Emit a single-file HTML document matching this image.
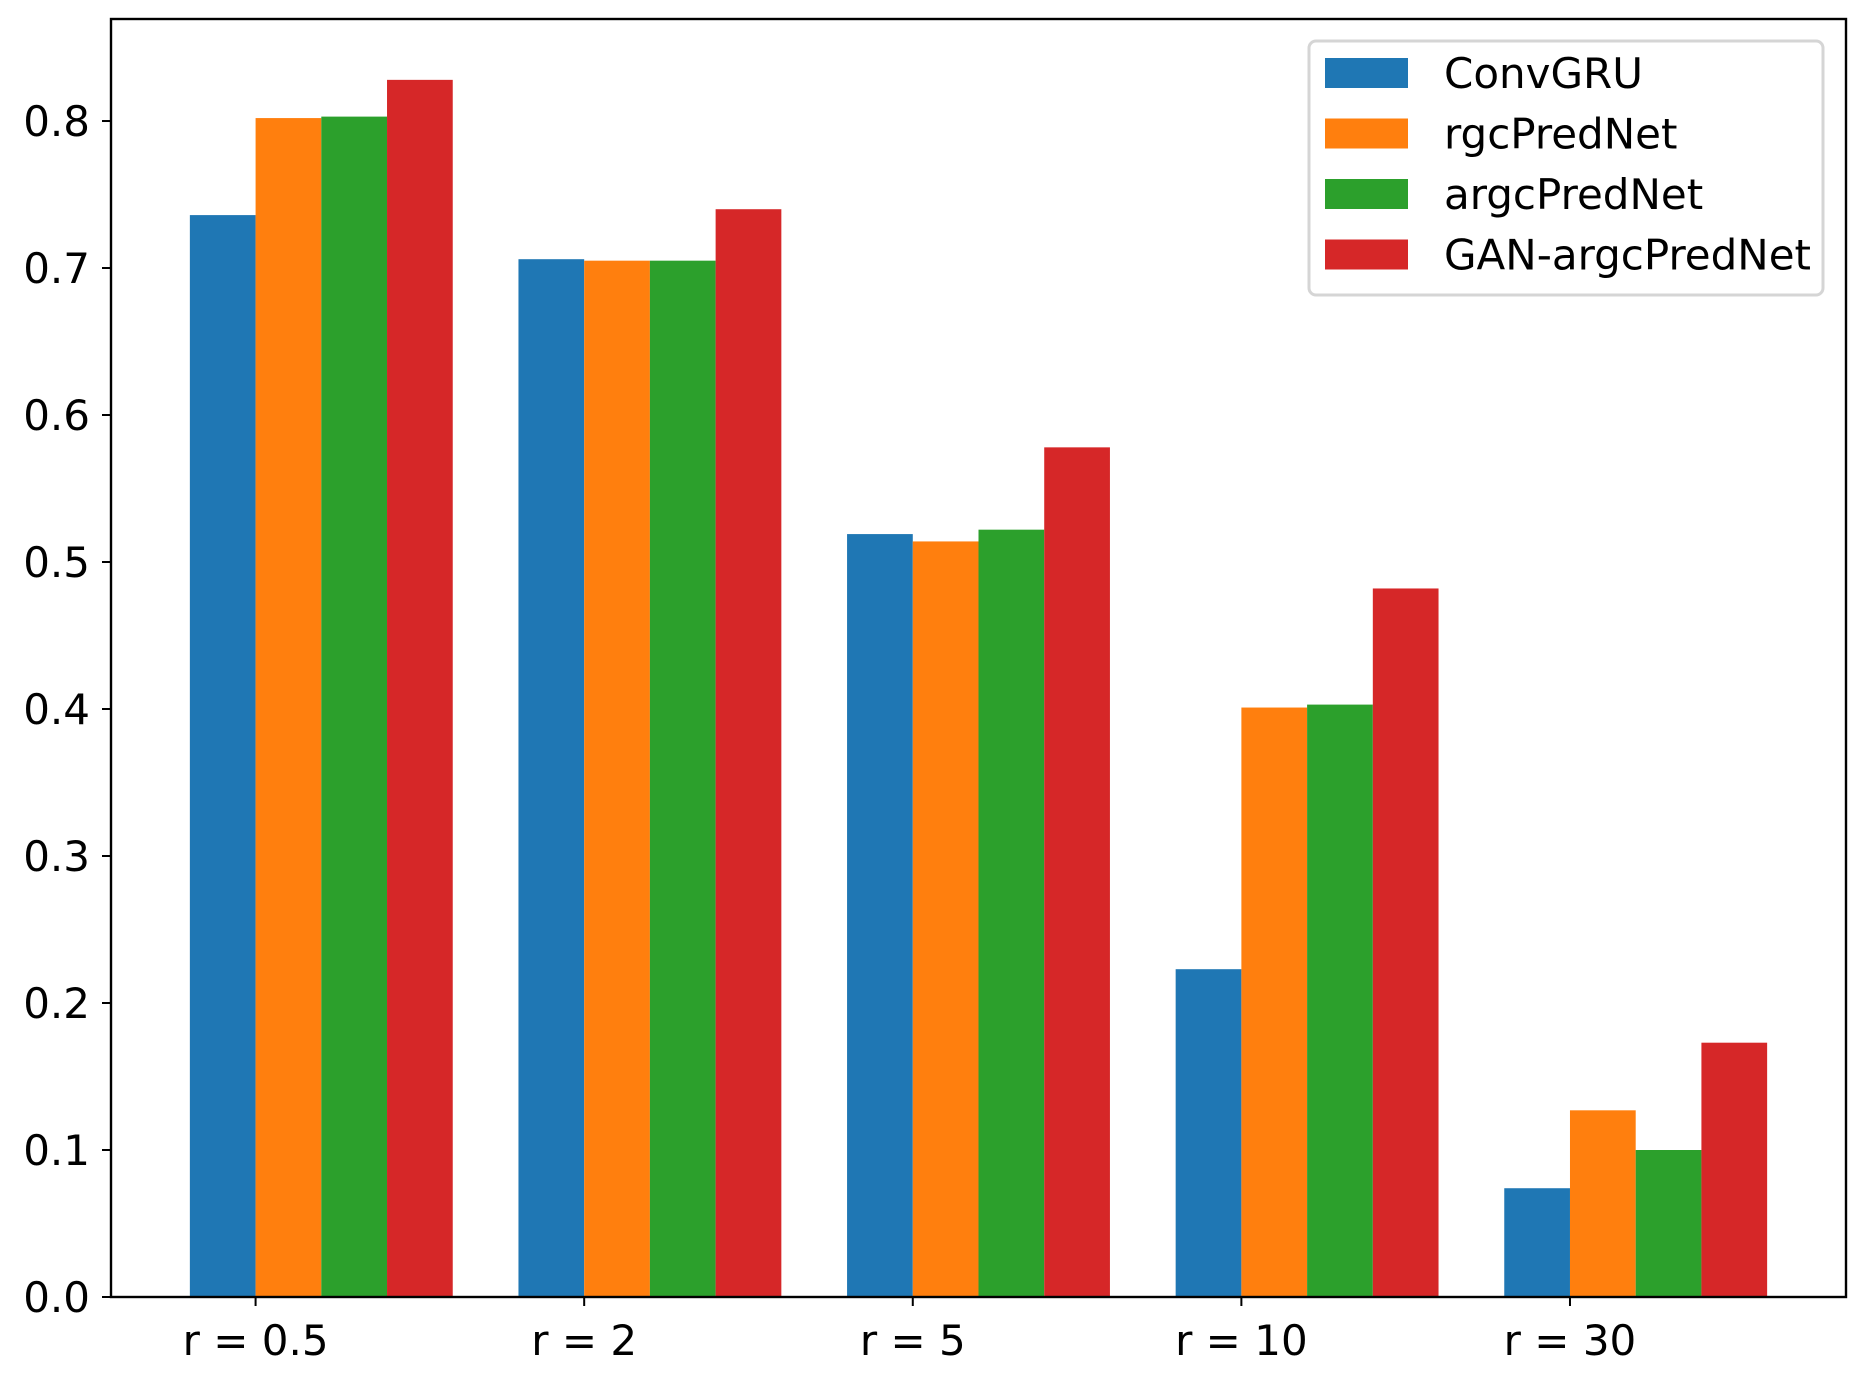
<!DOCTYPE html>
<html><head><meta charset="utf-8"><style>
html,body{margin:0;padding:0;background:#fff;}
svg{display:block;font-family:"DejaVu Sans","Liberation Sans",sans-serif;}
</style></head><body>
<svg id="chart" width="1866" height="1377" viewBox="0 0 1866 1377" xmlns="http://www.w3.org/2000/svg">
<rect x="0" y="0" width="1866" height="1377" fill="#fff"/>
<g id="bars"></g>
<g id="axes"></g>
<g id="legend"></g>
</svg>
<script>
const categories = ["r = 0.5", "r = 2", "r = 5", "r = 10", "r = 30"];
const seriesNames = ["ConvGRU", "rgcPredNet", "argcPredNet", "GAN-argcPredNet"];
const convgru = [0.736, 0.706, 0.519, 0.223, 0.074];
const rgcprednet = [0.802, 0.705, 0.514, 0.401, 0.127];
const argcprednet = [0.803, 0.705, 0.522, 0.403, 0.100];
const ganargcprednet = [0.828, 0.740, 0.578, 0.482, 0.173];
const yTicks = [0.0, 0.1, 0.2, 0.3, 0.4, 0.5, 0.6, 0.7, 0.8];
const colors = ["#1f77b4", "#ff7f0e", "#2ca02c", "#d62728"];

const NS = "http://www.w3.org/2000/svg";
const L = 111, R = 1846, T = 19, B = 1297;
const xmin = -0.34, xmax = 4.94, ymin = 0, ymax = 0.8694;
const xs = v => L + (v - xmin) / (xmax - xmin) * (R - L);
const ys = v => B - (v - ymin) / (ymax - ymin) * (B - T);
function mk(tag, attrs, parent) {
  const e = document.createElementNS(NS, tag);
  for (const k in attrs) e.setAttribute(k, attrs[k]);
  parent.appendChild(e);
  return e;
}
const series = [convgru, rgcprednet, argcprednet, ganargcprednet];
const barsG = document.getElementById("bars");
const w = 0.2;
series.forEach((vals, j) => {
  vals.forEach((v, i) => {
    const c = i + j * w;
    const r = mk("rect", {x: xs(c - w/2), y: ys(v), width: xs(c + w/2) - xs(c - w/2), height: ys(0) - ys(v), fill: colors[j]}, barsG);
    
    
  });
});
const ax = document.getElementById("axes");
const frame = mk("rect", {x: L, y: T, width: R - L, height: B - T, fill: "none", stroke: "#000", "stroke-width": 2.4}, ax);


yTicks.forEach(t => {
  const y = ys(t);
  const tk = mk("line", {x1: L - 9, x2: L, y1: y, y2: y, stroke: "#000", "stroke-width": 2}, ax);
  
  
  const tx = mk("text", {x: L - 21, y: y + 15, "text-anchor": "end", "font-size": 42, fill: "#000"}, ax);
  tx.textContent = t.toFixed(1);
  
  
});
categories.forEach((c, i) => {
  const x = xs(i + 0.1);
  const tk = mk("line", {x1: x, x2: x, y1: B, y2: B + 9, stroke: "#000", "stroke-width": 2}, ax);
  
  
  const tx = mk("text", {x: x, y: B + 58, "text-anchor": "middle", "font-size": 42, fill: "#000"}, ax);
  tx.textContent = c;
  
  
});
const lg = document.getElementById("legend");
const box = mk("rect", {x: 1309, y: 41, width: 514, height: 254, rx: 7, fill: "#fff", stroke: "#d5d5d5", "stroke-width": 3}, lg);


seriesNames.forEach((n, j) => {
  const cy = 73 + j * 60.5;
  const p = mk("rect", {x: 1325, y: cy - 15, width: 83, height: 30, fill: colors[j]}, lg);
  
  
  const t = mk("text", {x: 1444, y: cy + 15, "font-size": 42, fill: "#000"}, lg);
  t.textContent = n;
  
  
});
</script>
</body></html>
